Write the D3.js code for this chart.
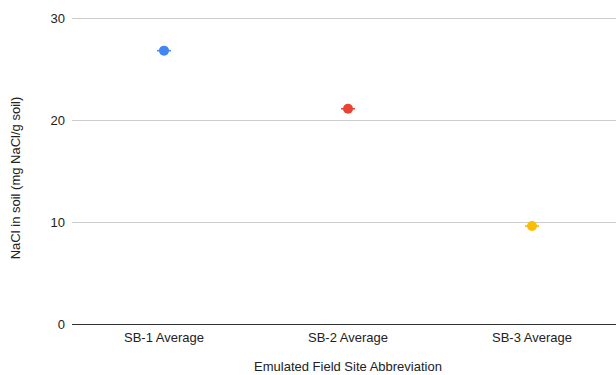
<!DOCTYPE html>
<html><head><meta charset="utf-8">
<script src="https://cdn.jsdelivr.net/npm/d3@7"></script>
<style>body{margin:0;background:#fff}text{font-family:"Liberation Sans",Arial,sans-serif}</style>
</head><body><svg id="c" width="616" height="375"></svg>
<script>
const categories = ["SB-1 Average", "SB-2 Average", "SB-3 Average"];
const values = [26.8, 21.1, 9.6];
const errors = [0.03, 0.03, 0.03];
const colors = ["#4285F4", "#EA4335", "#FBBC04"];
const yTicks = [0, 10, 20, 30];

const svg = d3.select("#c");
const x = d3.scaleBand().domain(categories).range([72, 624]);
const y = d3.scaleLinear().domain([0, 30]).range([324, 18]);

const grid = svg.append("g");
yTicks.forEach(t => {
  grid.append("line").attr("x1", 72).attr("x2", 616).attr("y1", y(t)).attr("y2", y(t))
    .attr("stroke", t === 0 ? "#333" : "#ccc").attr("stroke-width", 1)
    .attr("shape-rendering", "crispEdges");
  grid.append("text").attr("x", 65).attr("y", y(t)).attr("dy", "0.35em")
    .attr("text-anchor", "end").attr("font-size", 13).attr("fill", "#222").text(t);
});

categories.forEach(c => {
  svg.append("text").attr("x", x(c) + x.bandwidth() / 2).attr("y", 342)
    .attr("text-anchor", "middle").attr("font-size", 13).attr("fill", "#222").text(c);
});

const pts = svg.append("g");
categories.forEach((c, i) => {
  const cx = x(c) + x.bandwidth() / 2;
  [values[i] - errors[i], values[i] + errors[i]].forEach(v => {
    pts.append("line").attr("x1", cx - 7).attr("x2", cx + 7).attr("y1", y(v)).attr("y2", y(v))
      .attr("stroke", colors[i]).attr("stroke-width", 1);
  });
  pts.append("circle").attr("cx", cx).attr("cy", y(values[i])).attr("r", 5).attr("fill", colors[i]);
});

svg.append("text").attr("x", 348).attr("y", 371).attr("text-anchor", "middle")
  .attr("font-size", 13).attr("fill", "#222").text("Emulated Field Site Abbreviation");
svg.append("text").attr("transform", "translate(20,178) rotate(-90)").attr("text-anchor", "middle")
  .attr("font-size", 13).attr("fill", "#222").text("NaCl in soil (mg NaCl/g soil)");
</script></body></html>
